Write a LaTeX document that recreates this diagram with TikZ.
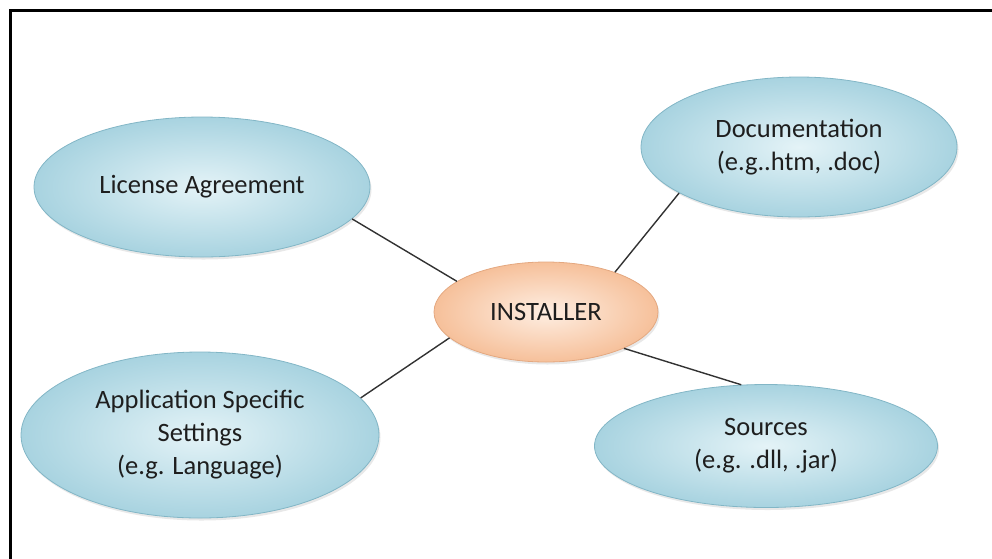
\documentclass[tikz,border=0pt]{standalone}
\usepackage{fontspec}
\setmainfont{Carlito}
\usetikzlibrary{shapes.geometric,shadows}

\definecolor{bluein}{RGB}{228,243,247}
\definecolor{blueout}{RGB}{168,211,224}
\definecolor{blueline}{RGB}{130,182,198}
\definecolor{orangein}{RGB}{254,238,226}
\definecolor{orangeout}{RGB}{246,192,154}
\definecolor{orangeline}{RGB}{228,168,128}
\definecolor{textgrey}{RGB}{30,30,30}
\definecolor{linkgrey}{RGB}{50,50,50}

\tikzset{
  bubble/.style={ellipse, inner sep=0pt, align=center, text=textgrey,
    font=\fontsize{26.5}{33}\selectfont,
    drop shadow={opacity=0.18, shadow xshift=1.5pt, shadow yshift=-2.5pt}},
  bluebubble/.style={bubble, draw=blueline, line width=0.8pt,
    shading=radial, inner color=bluein, outer color=blueout},
  hubbubble/.style={bubble, draw=orangeline, line width=0.8pt,
    shading=radial, inner color=orangein, outer color=orangeout},
  link/.style={draw=linkgrey, line width=1.4pt},
  frameline/.style={draw=black, line width=3pt}
}

\begin{document}
\begin{tikzpicture}[x=1pt,y=-1pt]
  \useasboundingbox (0,0) rectangle (992,558);

  % page frame (top and left edges)
  \coordinate (fbl) at (10,570);
  \coordinate (ftl) at (10,10);
  \coordinate (ftr) at (1000,10);
  \draw[frameline] (fbl) -- (ftl) -- (ftr);

  % hub and satellites
  \node[hubbubble, minimum width=224pt, minimum height=100pt] (inst) at (546,312) {INSTALLER};
  \node[bluebubble, minimum width=336pt, minimum height=140pt] (lic) at (202,187) {License Agreement};
  \node[bluebubble, minimum width=316pt, minimum height=140pt] (doc) at (799,147) {Documentation\\(e.g..htm, .doc)};
  \node[bluebubble, minimum width=358pt, minimum height=166pt] (app) at (200,435) {Application Specific\\Settings\\(e.g. Language)};
  \node[bluebubble, minimum width=343pt, minimum height=123pt] (src) at (766,446) {Sources\\(e.g. .dll, .jar)};

  % connectors
  \draw[link] (lic.-12) -- (inst.161);
  \draw[link] (app.13) -- (inst.195);
  \draw[link] (doc.201) -- (inst.30);
  \draw[link] (src.112) -- (inst.-25);
\end{tikzpicture}
\end{document}
